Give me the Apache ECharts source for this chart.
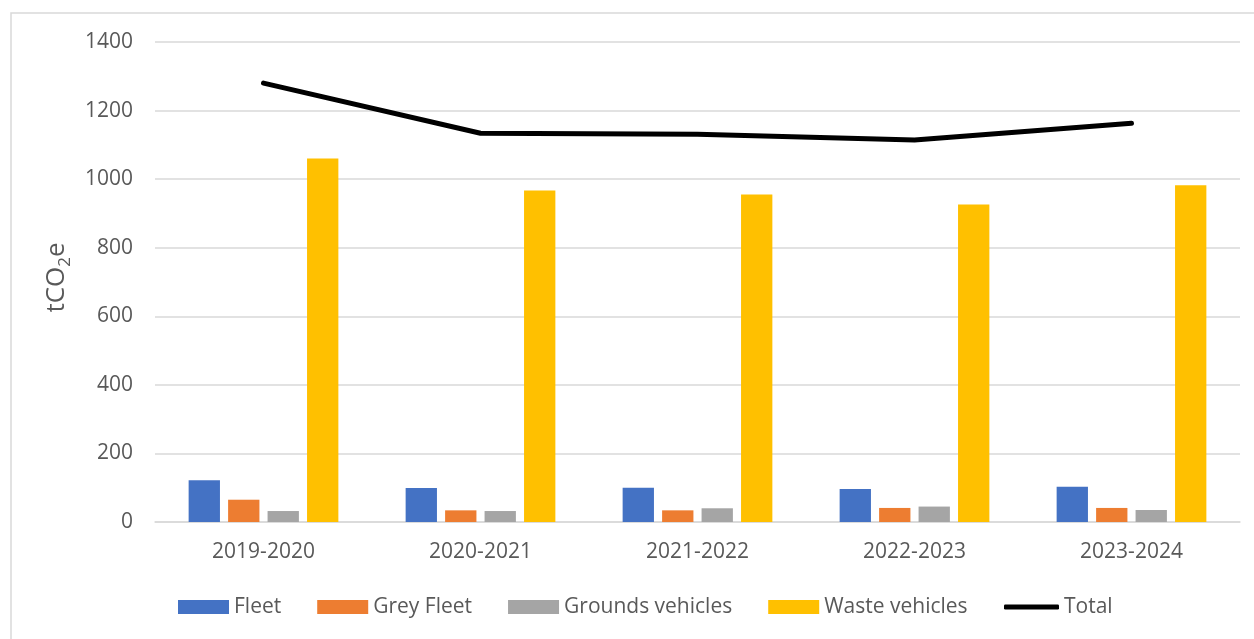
<!DOCTYPE html>
<html>
<head>
<meta charset="utf-8">
<title>Vehicle emissions by year</title>
<script src="https://cdn.jsdelivr.net/npm/echarts@6/dist/echarts.min.js"></script>
<style>
  html, body { margin: 0; padding: 0; background: #fff; }
  #chart { width: 1254px; height: 639px; }
</style>
</head>
<body>
<div id="chart"></div>
<script>
// Financial years on the category axis
const years = ['2019-2020', '2020-2021', '2021-2022', '2022-2023', '2023-2024'];

// Emissions per source, tCO2e
const fleet = [122, 99, 100, 96, 103];
const greyFleet = [65, 34, 34, 41, 41];
const groundsVehicles = [32, 32, 40, 45, 35];
const wasteVehicles = [1060, 967, 955, 926, 982];
const total = [1280, 1134, 1131, 1114, 1163];

// Value axis ticks
const yTicks = [0, 200, 400, 600, 800, 1000, 1200, 1400];

const FONT = '"Open Sans", "Noto Sans", sans-serif';
const TEXT = '#595959';
const GRID = '#d9d9d9';

const chart = echarts.init(document.getElementById('chart'), null, { renderer: 'canvas' });

function bar(name, data, color) {
  return {
    name: name,
    type: 'bar',
    data: data,
    barGap: '26%',
    barCategoryGap: '31%',
    itemStyle: { color: color },
    emphasis: { disabled: true }
  };
}

const legendText = { fontFamily: FONT, fontSize: 21, color: TEXT, lineHeight: 24 };

chart.setOption({
  animation: false,
  backgroundColor: '#ffffff',
  textStyle: { fontFamily: FONT, color: TEXT },
  graphic: [{
    type: 'rect',
    silent: true,
    z: -1,
    shape: { x: 11, y: 13, width: 1400, height: 800 },
    style: { fill: 'none', stroke: GRID, lineWidth: 1.5 }
  }],
  grid: { left: 155, right: 14, top: 42, bottom: 117, containLabel: false },
  legend: [{
    left: 178,
    top: 595,
    padding: 0,
    itemWidth: 51,
    itemHeight: 14,
    itemGap: 36,
    icon: 'rect',
    selectedMode: false,
    textStyle: legendText,
    data: ['Fleet', 'Grey Fleet', 'Grounds vehicles', 'Waste vehicles']
  }, {
    left: 1004,
    top: 595,
    padding: 0,
    itemWidth: 55,
    itemHeight: 5,
    icon: 'roundRect',
    selectedMode: false,
    textStyle: legendText,
    data: ['Total']
  }],
  xAxis: {
    type: 'category',
    data: years,
    axisLine: { show: true, lineStyle: { color: GRID, width: 1.5 } },
    axisTick: { show: false },
    axisLabel: { fontFamily: FONT, fontSize: 21, color: TEXT, margin: 20 }
  },
  yAxis: {
    type: 'value',
    min: yTicks[0],
    max: yTicks[yTicks.length - 1],
    interval: yTicks[1] - yTicks[0],
    name: '{a|tCO}{b|2}{a|e}',
    nameLocation: 'middle',
    nameGap: 74,
    nameRotate: 90,
    nameTextStyle: {
      padding: [0, 0, 0, 9],
      rich: {
        a: { fontFamily: FONT, fontSize: 26, color: TEXT, lineHeight: 34, verticalAlign: 'middle' },
        b: { fontFamily: FONT, fontSize: 17, color: TEXT, lineHeight: 17, verticalAlign: 'bottom' }
      }
    },
    axisLine: { show: false },
    axisTick: { show: false },
    splitLine: { lineStyle: { color: GRID, width: 1.5 } },
    axisLabel: {
      fontFamily: FONT, fontSize: 21, color: TEXT, margin: 22,
      formatter: function (v) { return String(v); }
    }
  },
  series: [
    bar('Fleet', fleet, '#4472C4'),
    bar('Grey Fleet', greyFleet, '#ED7D31'),
    bar('Grounds vehicles', groundsVehicles, '#A5A5A5'),
    bar('Waste vehicles', wasteVehicles, '#FFC000'),
    {
      name: 'Total',
      type: 'line',
      data: total,
      symbol: 'none',
      showSymbol: false,
      color: '#000000',
      lineStyle: { color: '#000000', width: 5, cap: 'round', join: 'round' },
      emphasis: { disabled: true },
      z: 5
    }
  ]
});
</script>
</body>
</html>
